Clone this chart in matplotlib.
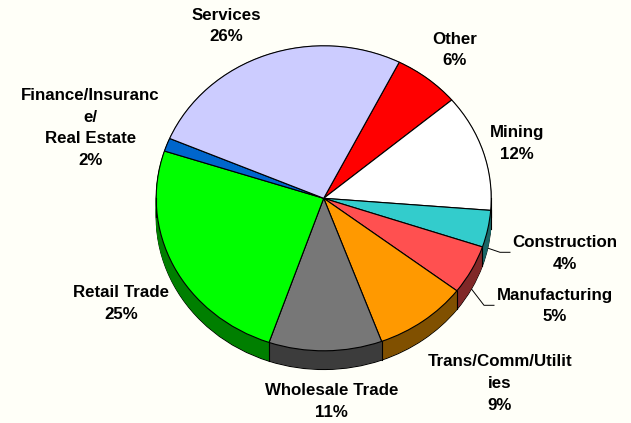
import numpy as np
import matplotlib
matplotlib.use("Agg")
import matplotlib.pyplot as plt
from matplotlib.lines import Line2D
from matplotlib.transforms import Affine2D

plt.rcParams['font.family'] = ['Liberation Sans', 'DejaVu Sans']

# clockwise, starting at the Other slice
shares = [6.4, 12.4, 3.9, 5.2, 9.0, 10.9, 24.7, 1.4, 26.0]
share_labels = ['6%', '12%', '4%', '5%', '9%', '11%', '25%', '2%', '26%']
# the names as the picture breaks them
sectors = ['Other', 'Mining', 'Construction', 'Manufacturing', 'Trans/Comm/Utilit\nies',
           'Wholesale Trade', 'Retail Trade', 'Finance/Insuranc\ne/\nReal Estate', 'Services']
top_colors = ['#FF0000', '#FFFFFF', '#33CCCC', '#FF5050', '#FF9900',
              '#777777', '#00FF00', '#0066CC', '#CCCCFF']
side_colors = ['#800000', '#808080', '#1A6666', '#802828', '#805000',
               '#3C3C3C', '#007F00', '#003366', '#666680']

W, H = 631, 423
bg = '#FFFFF8'
# pie geometry in picture pixels
cx, cy, rx, ry, depth = 323.7, 198.3, 167.5, 152.5, 18.7
d = depth / ry
start = 63.2

fig = plt.figure(figsize=(W / 100, H / 100), dpi=100, facecolor=bg)
ax = fig.add_axes([0, 0, 1, 1])

# bottom of the pie with its black rim
wedges, _ = ax.pie(shares, colors=side_colors, startangle=start, counterclock=False, center=(0, -d),
                   wedgeprops={'linewidth': 0.8, 'edgecolor': 'black'})

# side wall: the same pie stacked upwards, hides the spokes of the bottom one
for off in np.linspace(d * 0.96, 0, 20):
    layer, _ = ax.pie(shares, colors=side_colors, startangle=start, counterclock=False, center=(0, -off),
                      wedgeprops={'linewidth': 0.5})
    for w in layer:
        w.set_edgecolor(w.get_facecolor())

# vertical edges at the slice borders on the front half
for w in wedges:
    a = np.deg2rad(w.theta2)
    if np.sin(a) < 0.02:
        ax.plot([np.cos(a)] * 2, [np.sin(a), np.sin(a) - d], color='black', lw=0.8)
for side in [-1, 1]:
    ax.plot([side, side], [0, -d], color='black', lw=0.8)

# top face
ax.pie(shares, colors=top_colors, startangle=start, counterclock=False,
       wedgeprops={'linewidth': 0.8, 'edgecolor': 'black'})

ax.set_aspect('auto')
ax.set_xlim(-cx / rx, (W - cx) / rx)
ax.set_ylim((cy - H) / ry, cy / ry)
ax.axis('off')

# picture pixels, y going down
px = Affine2D().scale(1, -1).translate(0, H)

label_pos = [(455, 50), (517, 143.5), (565, 253.5), (554.5, 306), (500, 383.5),
             (331.5, 401.5), (121, 303.5), (90.5, 128), (226, 26)]
for name, pct, (x, y) in zip(sectors, share_labels, label_pos):
    fig.text(x, y, name + '\n' + pct, transform=px, ha='center', va='center',
             fontsize=12.2, fontweight='bold', linespacing=1.55, color='black')

# leader lines
fig.add_artist(Line2D([488.3, 500, 510], [248.3, 252.3, 252.3], transform=px, color='black', lw=0.7))
fig.add_artist(Line2D([471.7, 484, 494], [289.3, 305.3, 305.3], transform=px, color='black', lw=0.7))

fig.savefig('out.png', dpi=100, facecolor=bg)
